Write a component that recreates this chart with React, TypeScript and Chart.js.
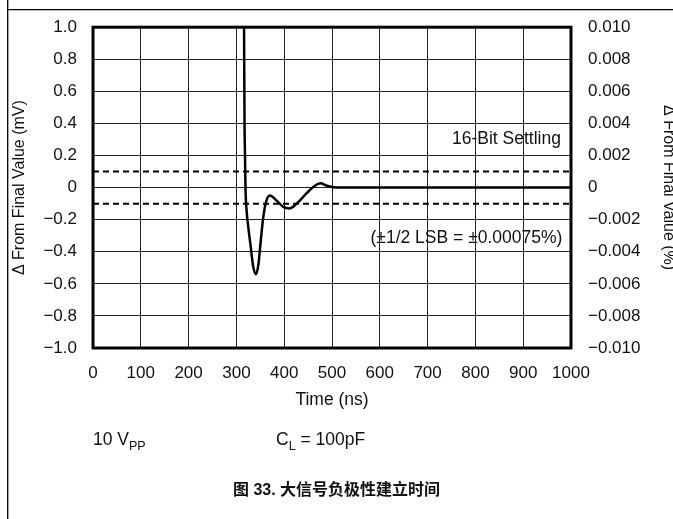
import React, { useEffect, useRef } from "react";
import { Chart, registerables } from "chart.js";

Chart.register(...registerables);

// ---- data ----
const timeNs = [312, 316, 317, 318, 319, 321, 325, 330, 335, 341, 346, 351, 356, 362, 370, 384, 398, 411, 426, 447, 464, 476, 489, 503, 530, 1000];
const deltaMv = [3.0, 1.0, 0.41, 0.2, 0.0, -0.13, -0.25, -0.37, -0.49, -0.54, -0.48, -0.33, -0.19, -0.09, -0.05, -0.08, -0.12, -0.13, -0.1, -0.035, 0.012, 0.027, 0.012, 0.002, 0, 0];
const bandLimitsMv = [0.1, -0.1];
const bandSpanNs = [0, 1000];
const xRange = [0, 1000];
const leftRange = [-1, 1];
const rightRange = [-0.01, 0.01];

const W = 673;
const H = 519;
const FONT = "'Liberation Sans', Arial, Helvetica, sans-serif";
const INK = "#111";

const fmt = (v: number, digits: number) => {
  if (Math.abs(v) < 1e-9) return "0";
  const s = Math.abs(v).toFixed(digits);
  return v < 0 ? "\u2212" + s : s;
};

const overlay = {
  id: "overlay",
  beforeDraw(chart: any) {
    const ctx = chart.ctx;
    ctx.save();
    ctx.fillStyle = "#fff";
    ctx.fillRect(0, 0, W, H);
    ctx.strokeStyle = "#000";
    ctx.lineWidth = 1.3;
    ctx.beginPath();
    ctx.moveTo(7.7, 0);
    ctx.lineTo(7.7, H);
    ctx.moveTo(7.7, 9.7);
    ctx.lineTo(W, 9.7);
    ctx.stroke();
    ctx.restore();
  },
  afterDraw(chart: any) {
    const ctx = chart.ctx;
    const a = chart.chartArea;
    const xs = chart.scales.x;
    const ys = chart.scales.y;
    ctx.save();
    // plot frame
    ctx.strokeStyle = "#000";
    ctx.lineWidth = 3;
    ctx.strokeRect(a.left, a.top, a.right - a.left, a.bottom - a.top);

    ctx.fillStyle = INK;
    // annotations inside plot
    ctx.font = `17.5px ${FONT}`;
    ctx.textAlign = "right";
    ctx.textBaseline = "alphabetic";
    ctx.fillText("16-Bit Settling", xs.getPixelForValue(979), ys.getPixelForValue(0.27));
    ctx.fillText("(\u00b11/2 LSB = \u00b10.00075%)", xs.getPixelForValue(982), ys.getPixelForValue(-0.345));

    // x title
    ctx.textAlign = "center";
    ctx.font = `17.5px ${FONT}`;
    ctx.fillText("Time (ns)", (a.left + a.right) / 2, 405);

    // left title
    ctx.save();
    ctx.font = `16px ${FONT}`;
    ctx.translate(23.5, (a.top + a.bottom) / 2);
    ctx.rotate(-Math.PI / 2);
    ctx.textAlign = "center";
    ctx.fillText("\u0394 From Final Value (mV)", 0, 0);
    ctx.restore();

    // right title (clipped by page edge)
    ctx.save();
    ctx.font = `16px ${FONT}`;
    ctx.translate(664, (a.top + a.bottom) / 2);
    ctx.rotate(Math.PI / 2);
    ctx.textAlign = "center";
    ctx.fillText("\u0394 From Final Value (%)", 0, 0);
    ctx.restore();

    // conditions
    ctx.textAlign = "left";
    ctx.font = `17.5px ${FONT}`;
    let x = 93;
    ctx.fillText("10 V", x, 445);
    x += ctx.measureText("10 V").width;
    ctx.font = `12.5px ${FONT}`;
    ctx.fillText("PP", x, 450);

    ctx.font = `17.5px ${FONT}`;
    x = 276;
    ctx.fillText("C", x, 445);
    x += ctx.measureText("C").width;
    ctx.font = `12.5px ${FONT}`;
    ctx.fillText("L", x, 450);
    x += ctx.measureText("L").width;
    ctx.font = `17.5px ${FONT}`;
    ctx.fillText(" = 100pF", x, 445);

    // caption
    ctx.textAlign = "center";
    ctx.font = `bold 16px ${FONT}, 'Noto Sans CJK SC'`;
    ctx.fillText("\u56fe 33. \u5927\u4fe1\u53f7\u8d1f\u6781\u6027\u5efa\u7acb\u65f6\u95f4", W / 2, 495);
    ctx.restore();
  },
};

export default function App() {
  const ref = useRef<HTMLCanvasElement>(null);
  useEffect(() => {
    const curve = timeNs.map((t, i) => ({ x: t, y: deltaMv[i] }));
    const bands = bandLimitsMv.map((v) => ({
      type: "line" as const,
      data: bandSpanNs.map((t) => ({ x: t, y: v })),
      borderColor: "#000",
      borderWidth: 2,
      borderDash: [6, 4],
      pointRadius: 0,
      yAxisID: "y",
    }));
    const chart = new Chart(ref.current!, {
      type: "line",
      data: {
        datasets: [
          ...bands,
          {
            data: curve,
            borderColor: "#000",
            borderWidth: 2.5,
            pointRadius: 0,
            cubicInterpolationMode: "monotone",
            yAxisID: "y",
          },
        ],
      },
      options: {
        responsive: false,
        animation: false,
        devicePixelRatio: 1,
        layout: { padding: { top: 24, left: 0, right: 0, bottom: 0 } },
        plugins: { legend: { display: false }, tooltip: { enabled: false } },
        scales: {
          x: {
            type: "linear",
            min: xRange[0],
            max: xRange[1],
            border: { display: false },
            grid: { color: "#222", lineWidth: 1, drawTicks: false },
            ticks: {
              stepSize: 100,
              padding: 15,
              color: INK,
              font: { family: FONT, size: 17 },
              maxRotation: 0,
              callback: (v: any) => String(v),
            },
            afterFit: (s: any) => {
              s.height = 171;
            },
          },
          y: {
            type: "linear",
            position: "left",
            min: leftRange[0],
            max: leftRange[1],
            border: { display: false },
            grid: { color: "#222", lineWidth: 1, drawTicks: false },
            ticks: {
              stepSize: 0.2,
              padding: 16,
              color: INK,
              font: { family: FONT, size: 17 },
              callback: (v: any) => fmt(Number(v), 1),
            },
            afterFit: (s: any) => {
              s.width = 93;
            },
          },
          y2: {
            type: "linear",
            position: "right",
            min: rightRange[0],
            max: rightRange[1],
            border: { display: false },
            grid: { display: false, drawTicks: false },
            ticks: {
              stepSize: 0.002,
              padding: 17,
              color: INK,
              font: { family: FONT, size: 17 },
              callback: (v: any) => fmt(Number(v), 3),
            },
            afterFit: (s: any) => {
              s.width = 102;
            },
          },
        },
      } as any,
      plugins: [overlay],
    });
    return () => chart.destroy();
  }, []);
  return (
    <div style={{ position: "fixed", left: 0, top: 0, width: W, height: H, background: "#fff" }}>
      <canvas ref={ref} width={W} height={H} style={{ display: "block", width: W, height: H }} />
    </div>
  );
}
